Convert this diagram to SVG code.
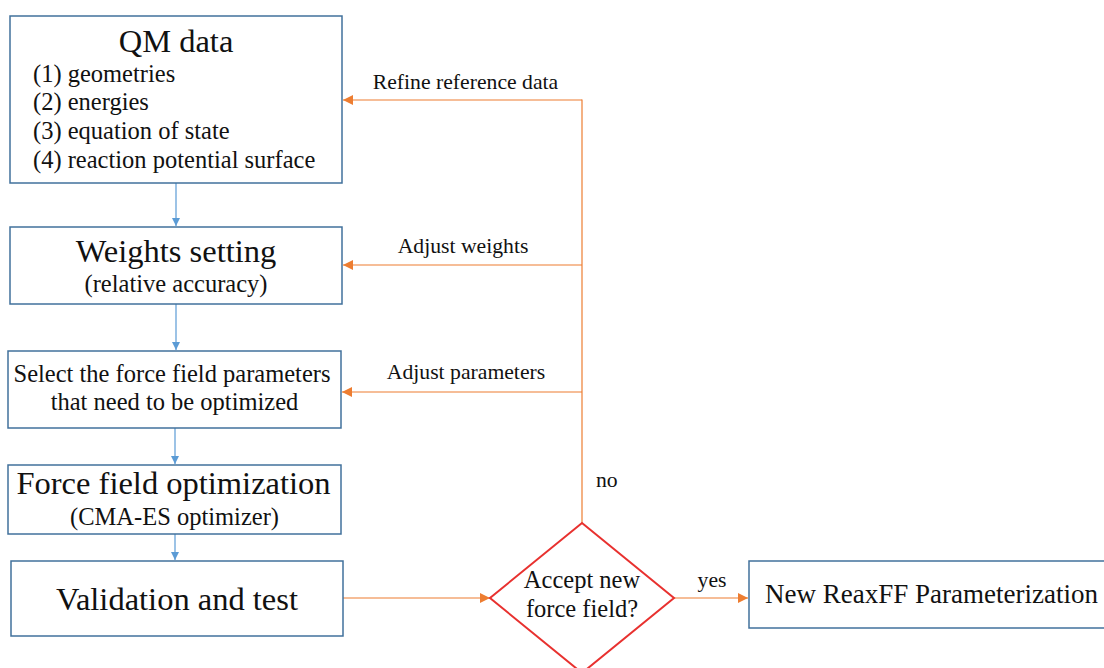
<svg xmlns="http://www.w3.org/2000/svg" width="1104" height="668" viewBox="0 0 1104 668" font-family="Liberation Serif, Times New Roman, Tinos, Nimbus Roman, Noto Serif, DejaVu Serif, serif">
  <style>
    .box { fill: #ffffff; stroke: #41719c; stroke-width: 1.5; }
    .dec { fill: #ffffff; stroke: #e8312f; stroke-width: 2; }
    .down { stroke: #5b9bd5; stroke-width: 1.2; fill: none; }
    .back { stroke: #ed7d31; stroke-width: 1.2; fill: none; }
    .big { font-size: 32.5px; }
    .mid { font-size: 24.5px; }
    .lbl { font-size: 21.7px; }
  </style>
  <defs>
    <marker id="mBlue" viewBox="0 0 10 10" refX="10" refY="5" markerWidth="8" markerHeight="8" markerUnits="userSpaceOnUse" orient="auto">
      <path d="M0,0 L10,5 L0,10 z" fill="#5b9bd5"/>
    </marker>
    <marker id="mOrange" viewBox="0 0 10 10" refX="10" refY="5" markerWidth="10" markerHeight="10" markerUnits="userSpaceOnUse" orient="auto">
      <path d="M0,0 L10,5 L0,10 z" fill="#ed7d31"/>
    </marker>
  </defs>
  <rect width="1104" height="668" fill="#ffffff"/>

  <g fill="#111111">
  <!-- connectors: blue flow down the left, orange feedback loop on the right -->
  <g id="connectors">
    <line class="down" x1="176" y1="183" x2="176" y2="226" marker-end="url(#mBlue)"/>
    <line class="down" x1="176" y1="304" x2="176" y2="350" marker-end="url(#mBlue)"/>
    <line class="down" x1="175" y1="428" x2="175" y2="464" marker-end="url(#mBlue)"/>
    <line class="down" x1="175" y1="534" x2="175" y2="560" marker-end="url(#mBlue)"/>
    <line class="back" x1="343" y1="598" x2="490" y2="598" marker-end="url(#mOrange)"/>
    <line class="back" x1="673" y1="598" x2="748" y2="598" marker-end="url(#mOrange)"/>
    <line class="back" x1="582" y1="523" x2="582" y2="99.5"/>
    <line class="back" x1="582" y1="100" x2="343" y2="100" marker-end="url(#mOrange)"/>
    <line class="back" x1="582" y1="265" x2="343" y2="265" marker-end="url(#mOrange)"/>
    <line class="back" x1="582" y1="392" x2="342" y2="392" marker-end="url(#mOrange)"/>
    <text class="lbl" x="465.5" y="89" text-anchor="middle">Refine reference data</text>
    <text class="lbl" x="463" y="253" text-anchor="middle">Adjust weights</text>
    <text class="lbl" x="466" y="379" text-anchor="middle">Adjust parameters</text>
    <text class="lbl" x="596" y="487">no</text>
    <text class="lbl" x="712" y="587" text-anchor="middle">yes</text>
  </g>

  <g id="qm-data">
    <rect class="box" x="10" y="16" width="332" height="167"/>
    <text class="big" x="176" y="52" text-anchor="middle">QM data</text>
    <text class="mid" x="33" y="82">(1) geometries</text>
    <text class="mid" x="33" y="110">(2) energies</text>
    <text class="mid" x="33" y="139">(3) equation of state</text>
    <text class="mid" x="33" y="168">(4) reaction potential surface</text>
  </g>

  <g id="weights-setting">
    <rect class="box" x="10" y="227" width="332" height="77"/>
    <text class="big" x="176" y="262" text-anchor="middle">Weights setting</text>
    <text class="mid" x="176" y="292" text-anchor="middle">(relative accuracy)</text>
  </g>

  <g id="select-parameters">
    <rect class="box" x="8" y="351" width="333" height="77"/>
    <text class="mid" x="172" y="382" text-anchor="middle">Select the force field parameters</text>
    <text class="mid" x="174.5" y="410" text-anchor="middle">that need to be optimized</text>
  </g>

  <g id="force-field-optimization">
    <rect class="box" x="8" y="465" width="333" height="69"/>
    <text class="big" x="173.5" y="494" text-anchor="middle">Force field optimization</text>
    <text class="mid" x="174.5" y="525" text-anchor="middle">(CMA-ES optimizer)</text>
  </g>

  <g id="validation">
    <rect class="box" x="11" y="561" width="332" height="75"/>
    <text class="big" x="177" y="610" text-anchor="middle">Validation and test</text>
  </g>

  <g id="accept-decision">
    <polygon class="dec" points="582,523 674,598 582,673 490,598"/>
    <text class="mid" x="582" y="588" text-anchor="middle">Accept new</text>
    <text class="mid" x="582" y="617" text-anchor="middle">force field?</text>
  </g>

  <g id="new-reaxff">
    <rect class="box" x="749" y="561" width="370" height="67"/>
    <text x="765" y="603" font-size="27">New ReaxFF Parameterization</text>
  </g>
  </g>
</svg>
